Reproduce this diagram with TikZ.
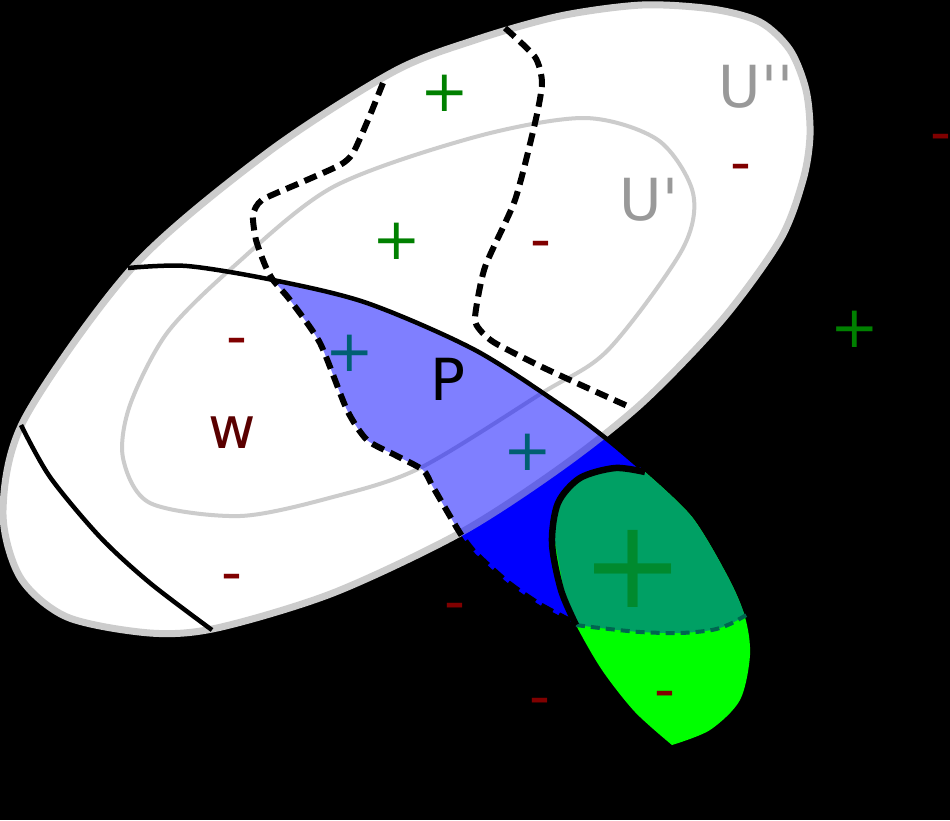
\documentclass[tikz,border=0pt]{standalone}
\usepackage{fontspec}
\usepackage{tikz}
\newfontfamily\dejavu{DejaVu Sans}
\definecolor{rimgray}{HTML}{CCCCCC}
\definecolor{labelgray}{HTML}{999999}
\definecolor{posgreen}{HTML}{008000}
\definecolor{posteal}{HTML}{005F73}
\definecolor{negred}{HTML}{800000}
\definecolor{wred}{HTML}{5A0000}
\definecolor{pblue}{HTML}{0000FF}
\definecolor{blobteal}{HTML}{00A064}
\definecolor{blobgreen}{HTML}{00FF00}
\definecolor{blobplus}{HTML}{008A2E}
\definecolor{blobdash}{HTML}{006650}
\tikzstyle{lbl} = [font=\dejavu\fontsize{58}{60}\selectfont, inner sep=0pt, anchor=base]
\tikzstyle{posmark} = [lbl, text=posgreen, yshift=-19pt]
\tikzstyle{negmark} = [lbl, text=negred, yshift=-16pt]
\tikzstyle{bigmark} = [inner sep=0pt, anchor=base, font=\dejavu\fontsize{123}{125}\selectfont, text=blobplus, yshift=-40pt]
\tikzstyle{rim} = [draw=rimgray, line width=7pt]
\tikzstyle{innerrim} = [draw=rimgray, line width=4pt]
\tikzstyle{edgeline} = [draw=black, line width=4.5pt]
\tikzstyle{dashline} = [draw=black, line width=6pt, dash pattern=on 13pt off 7pt]
\tikzstyle{blobdashline} = [draw=blobdash, line width=4pt, dash pattern=on 9pt off 6pt]
\def\pregion{plot[smooth, tension=0.4] coordinates {(273,280) (290,300) (320,343) (347,410) (367,440) (395,455) (423,470) (433,487) (460,533) (475,553) (508,583) (540,605) (574,623)} -- (600,600) -- (655,490) -- plot[smooth] coordinates {(640,467) (608,440) (565,408) (475,350) (367,303) (273,280)} -- cycle}
\def\blobpath{plot[smooth] coordinates {(645,472) (692,517) (728,577) (745,617) (750,655) (740,700) (710,730) (672,745)} -- plot[smooth] coordinates {(672,745) (635,712) (602,670) (576,625) (561,590) (552,543) (558,503) (580,478) (615,468) (645,472)} -- cycle}

\begin{document}
\begin{tikzpicture}[x=1pt, y=-1pt]

\fill[black] (0,0) rectangle (950,820);
\useasboundingbox (0,0) rectangle (950,820);

\fill[pblue] \pregion;
\path[rim, fill=white] plot[smooth cycle] coordinates {(642,5) (712,9) (760,22) (790,50) (806,90) (810,135) (803,180) (780,240) (722,320) (642,403) (560,468) (460,533) (333,593) (217,628) (150,633) (67,617) (20,577) (3,510) (25,418) (133,267) (267,153) (393,72) (475,40) (560,16)};
\path[innerrim] plot[smooth cycle] coordinates {(475,137) (585,118) (658,140) (693,193) (682,250) (608,350) (542,393) (420,468) (333,497) (240,516) (150,503) (123,458) (130,405) (167,333) (233,267) (333,187)};
\fill[pblue, opacity=0.5] \pregion;

\fill[blobgreen] \blobpath;
\begin{scope}
\clip \blobpath;
\fill[blobteal] plot[smooth] coordinates {(570,624) (600,628) (640,632) (680,633) (712,630) (730,624) (752,612)} -- (770,460) -- (540,460) -- cycle;
\end{scope}
\path[blobdashline] plot[smooth] coordinates {(576,625) (600,628) (640,632) (680,633) (712,630) (730,624) (748,614)};

\path[edgeline] plot[smooth] coordinates {(128,268) (187,266) (273,280) (367,303) (475,350) (565,408) (608,440) (640,467)};
\path[edgeline] plot[smooth] coordinates {(21,425) (50,477) (100,537) (150,583) (212,630)};
\path[edgeline, line width=6.5pt] plot[smooth] coordinates {(645,472) (615,468) (580,478) (558,503) (552,543) (561,590) (576,625)};

\path[dashline] plot[smooth, tension=0.4] coordinates {(383,83) (368,120) (353,153) (340,165) (300,183) (262,200) (253,215) (256,240) (265,265) (273,280) (290,300) (320,343) (347,410) (367,440) (395,455) (423,470) (433,487) (460,533) (475,553) (508,583) (540,605) (574,623)};
\path[dashline] plot[smooth, tension=0.4] coordinates {(505,28) (535,57) (542,83) (535,123) (515,200) (485,267) (475,317) (480,330) (495,343) (542,367) (592,390) (632,408)};

\node (uouter) [lbl, text=labelgray] at (756,107) {U\textquotesingle\textquotesingle};
\node (uinner) [lbl, text=labelgray] at (649,220) {U\textquotesingle};
\node (plabel) [lbl] at (448,400) {P};
\node (wlabel) [lbl, text=wred] at (232,448) {w};

\node (pos1) [posmark] at (445,92) {+};
\node (pos2) [posmark] at (397,240) {+};
\node (pos3) [posmark] at (855,328) {+};
\node (pos4) [posmark, text=posteal] at (350,352) {+};
\node (pos5) [posmark, text=posteal] at (528,451) {+};
\node (posbig) [bigmark] at (633,567) {+};

\node (neg1) [negmark] at (741,166) {-};
\node (neg2) [negmark] at (541,243) {-};
\node (neg3) [negmark] at (941,136) {-};
\node (neg4) [negmark] at (237,340) {-};
\node (neg5) [negmark] at (232,576) {-};
\node (neg6) [negmark] at (455,605) {-};
\node (neg7) [negmark] at (540,700) {-};
\node (neg8) [negmark] at (665,693) {-};

\end{tikzpicture}
\end{document}
